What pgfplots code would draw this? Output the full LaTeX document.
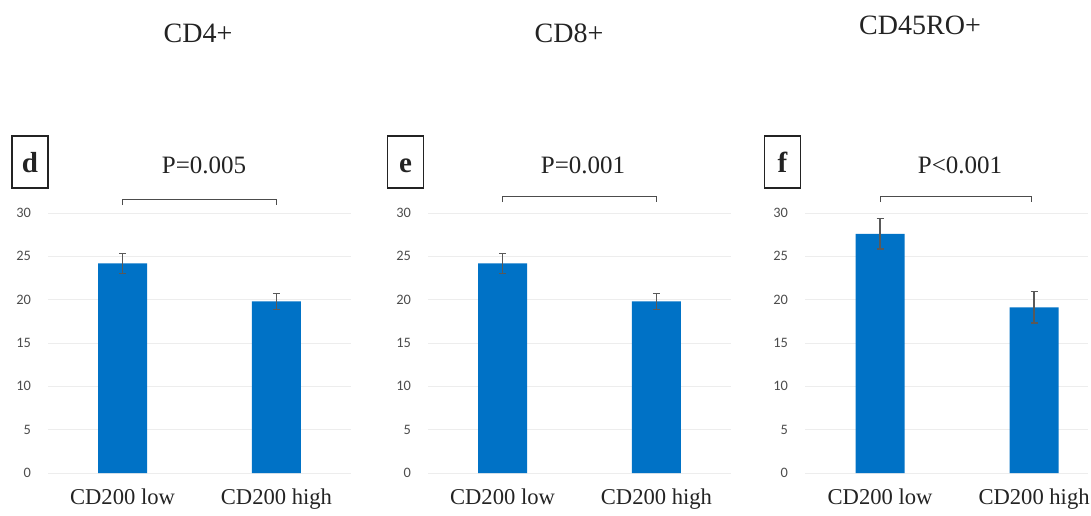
\documentclass[border=0pt]{standalone}
\usepackage{pgfplots}
\pgfplotsset{compat=1.18}
\usepackage{fontspec}
\setmainfont{Liberation Serif}
\newfontfamily\tickfont{Carlito}
\definecolor{barblue}{RGB}{0,114,198}
\definecolor{txt}{RGB}{35,35,35}
\pgfplotsset{
 panel/.style={
  scale only axis, anchor=south west, height=130pt,
  ymin=0,ymax=30, ytick={0,5,...,30}, ymajorgrids, grid style={black!7, line width=0.4pt},
  axis line style={draw=none}, major tick style={draw=none},
  xtick={0,1}, xticklabels={CD200 low, CD200 high},
  xticklabel style={font=\fontsize{11.3}{13}\selectfont, text=txt, yshift=0pt},
  yticklabel style={font=\tickfont\fontsize{7.2}{9}\selectfont, text=black!70, xshift=-5pt},
  /pgf/number format/assume math mode=true,
  ybar, bar width=24.5pt, clip=false,
 },
 bars/.style={fill=barblue, draw=none,
  error bars/.cd, y dir=both, y explicit,
  error bar style={black!65, line width=0.6pt},
  error mark options={rotate=90, mark size=1.75pt, black!65, line width=0.6pt}},
}
\begin{document}
\begin{tikzpicture}
\useasboundingbox (0,0) rectangle (545.5pt,257.5pt);
% panel d
\begin{axis}[panel, at={(24pt,21pt)}, width=151.5pt, xmin=-0.484, xmax=1.484]
\addplot[bars] coordinates {(0,24.2) +- (0,1.15) (1,19.8) +- (0,0.95)};
\draw[black!70, line width=0.5pt] (axis cs:0,30.9) -- (axis cs:0,31.6) -- (axis cs:1,31.6) -- (axis cs:1,30.9);
\end{axis}
% panel e
\begin{axis}[panel, at={(214pt,21pt)}, width=151.5pt, xmin=-0.484, xmax=1.484]
\addplot[bars] coordinates {(0,24.2) +- (0,1.15) (1,19.8) +- (0,0.95)};
\draw[black!70, line width=0.5pt] (axis cs:0,31.27) -- (axis cs:0,31.96) -- (axis cs:1,31.96) -- (axis cs:1,31.27);
\end{axis}
% panel f
\begin{axis}[panel, at={(402.5pt,21pt)}, width=141.5pt, xmin=-0.487, xmax=1.35]
\addplot[bars] coordinates {(0,27.6) +- (0,1.75) (1,19.1) +- (0,1.8)};
\draw[black!70, line width=0.5pt] (axis cs:0,31.27) -- (axis cs:0,31.96) -- (axis cs:0.98,31.96) -- (axis cs:0.98,31.27);
\end{axis}
% titles
\node[text=txt, font=\fontsize{14}{16}\selectfont] at (99pt,241pt) {CD4+};
\node[text=txt, font=\fontsize{14}{16}\selectfont] at (284.5pt,241pt) {CD8+};
\node[text=txt, font=\fontsize{14}{16}\selectfont] at (460pt,245pt) {CD45RO+};
% p values
\node[text=txt, font=\fontsize{12.5}{15}\selectfont] at (102pt,175pt) {P=0.005};
\node[text=txt, font=\fontsize{12.5}{15}\selectfont] at (291.5pt,175pt) {P=0.001};
\node[text=txt, font=\fontsize{12.5}{15}\selectfont] at (480pt,175pt) {P<0.001};
% letter boxes
\foreach \x/\l in {15/d, 202.75/e, 391.25/f}{
 \node[draw=txt, line width=0.8pt, minimum width=18pt, minimum height=26pt, inner sep=0pt, text=txt,
  text height=10pt, text depth=0pt,
  font=\fontsize{14.5}{16}\selectfont\bfseries] at (\x pt,176.5pt) {\l};
}
\end{tikzpicture}
\end{document}
